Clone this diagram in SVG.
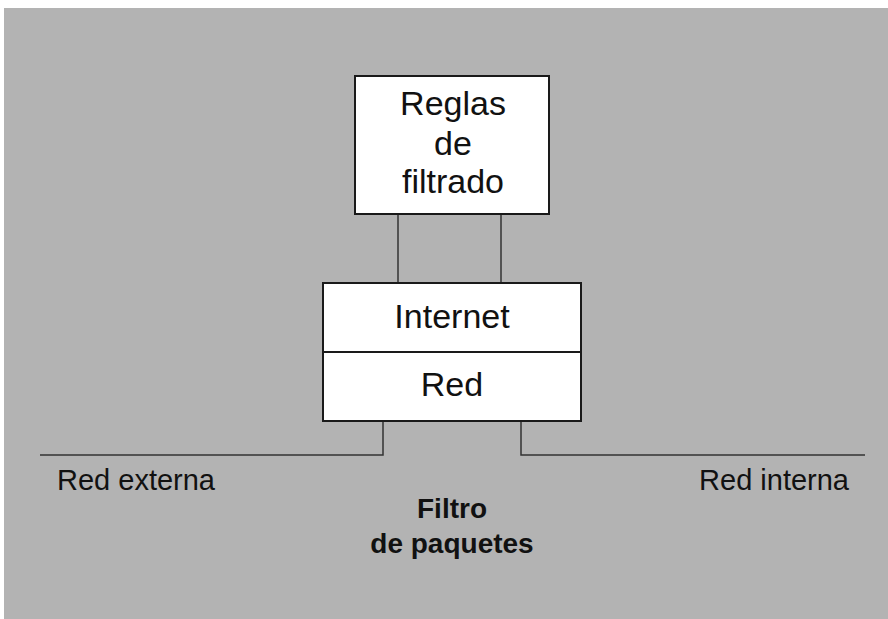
<svg xmlns="http://www.w3.org/2000/svg" width="888" height="619" viewBox="0 0 888 619">
<style>
.box{fill:#ffffff;stroke:#1a1a1a;stroke-width:2}
.ln{fill:none;stroke:#333333;stroke-width:1.5}
.t{font-family:"Liberation Sans",Arial,sans-serif;font-size:34px;fill:#111;text-anchor:middle}
.s{font-family:"Liberation Sans",Arial,sans-serif;font-size:29px;fill:#111}
.b{font-family:"Liberation Sans",Arial,sans-serif;font-size:28px;font-weight:bold;fill:#111;text-anchor:middle}
</style>
<rect x="4" y="8" width="884" height="611" fill="#b3b3b3"/>
<g id="connectors">
<line class="ln" x1="398" y1="214" x2="398" y2="283"/>
<line class="ln" x1="501" y1="214" x2="501" y2="283"/>
<polyline class="ln" points="383,421 383,455 40,455"/>
<polyline class="ln" points="521,421 521,455 865,455"/>
</g>
<g id="reglas">
<rect class="box" x="355" y="76" width="194" height="138"/>
<text class="t" x="453" y="115">Reglas</text>
<text class="t" x="453" y="155">de</text>
<text class="t" x="453" y="193">filtrado</text>
</g>
<g id="pila">
<rect class="box" x="323" y="283" width="258" height="138"/>
<line x1="323" y1="352" x2="581" y2="352" stroke="#1a1a1a" stroke-width="2"/>
<text class="t" x="452" y="328">Internet</text>
<text class="t" x="452" y="396">Red</text>
</g>
<g id="red-externa">
<text class="s" x="57" y="490">Red externa</text>
</g>
<g id="red-interna">
<text class="s" x="849" y="490" text-anchor="end">Red interna</text>
</g>
<g id="filtro">
<text class="b" x="452" y="518">Filtro</text>
<text class="b" x="452" y="553">de paquetes</text>
</g>
</svg>
